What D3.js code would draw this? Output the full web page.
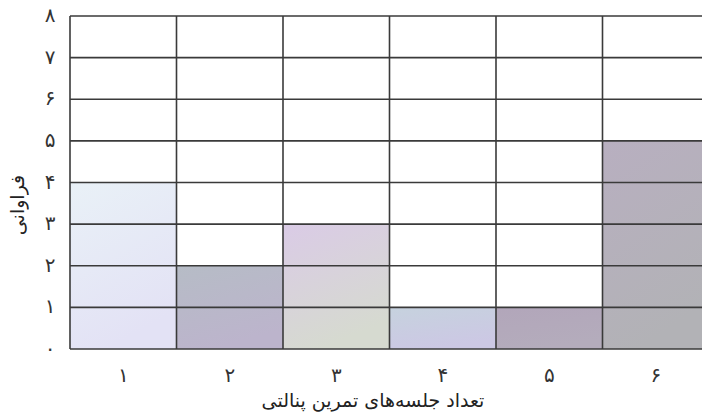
<!DOCTYPE html>
<html><head><meta charset="utf-8">
<script src="https://cdn.jsdelivr.net/npm/d3@7"></script>
<style>html,body{margin:0;padding:0;background:#fff;}svg{display:block;}</style>
</head><body>
<svg id="c" width="702" height="416"></svg>
<script>
const categories = [1, 2, 3, 4, 5, 6];
const catLabels = ["۱", "۲", "۳", "۴", "۵", "۶"];
const frequencies = [4, 2, 3, 1, 1, 5];
const yTicks = [0, 1, 2, 3, 4, 5, 6, 7, 8];
const yTickLabels = ["۰", "۱", "۲", "۳", "۴", "۵", "۶", "۷", "۸"];
const xTitle = "تعداد جلسه‌های تمرین پنالتی";
const yTitle = "فراوانی";
const barTop = ["#e9f1f7", "#b6bcc6", "#dacbe6", "#c6d2de", "#b2a6ba", "#b8afc0"];
const barBottom = ["#e3e2f5", "#bcb4cc", "#d6dad0", "#ccc8e4", "#b4acbc", "#b2b2b6"];

const svg = d3.select("#c");
const m = {l: 70, t: 16, r: 709, b: 349};
const x = d3.scaleBand().domain(categories).range([m.l, m.r]).padding(0);
const y = d3.scaleLinear().domain([0, 8]).range([m.b, m.t]);
const font = "'DejaVu Sans', sans-serif";

const defs = svg.append("defs");
categories.forEach((c, i) => {
  const g = defs.append("linearGradient").attr("id", "g" + i)
    .attr("x1", 0).attr("y1", 0).attr("x2", 0.35).attr("y2", 1);
  g.append("stop").attr("offset", "0%").attr("stop-color", barTop[i]);
  g.append("stop").attr("offset", "100%").attr("stop-color", barBottom[i]);
});

svg.selectAll("rect.bar").data(frequencies).enter().append("rect")
  .attr("class", "bar")
  .attr("x", (d, i) => x(categories[i]))
  .attr("y", d => y(d))
  .attr("width", x.bandwidth())
  .attr("height", d => y(0) - y(d))
  .attr("fill", (d, i) => `url(#g${i})`);

// horizontal grid
svg.selectAll("line.h").data(yTicks).enter().append("line")
  .attr("x1", m.l).attr("x2", m.r)
  .attr("y1", d => y(d)).attr("y2", d => y(d))
  .attr("stroke", "#3a3a3a").attr("stroke-width", 1.6);
// vertical grid
const vb = categories.map(c => x(c)).concat([m.r]);
svg.selectAll("line.v").data(vb).enter().append("line")
  .attr("x1", d => d).attr("x2", d => d)
  .attr("y1", m.t).attr("y2", m.b)
  .attr("stroke", "#3a3a3a").attr("stroke-width", 1.6);

// y tick labels
svg.selectAll("text.yt").data(yTicks).enter().append("text")
  .attr("x", 50).attr("y", d => y(d))
  .attr("dy", "0.3em").attr("text-anchor", "middle")
  .attr("font-family", font).attr("font-size", 20).attr("fill", "#333")
  .text((d, i) => yTickLabels[i]);

// x tick labels
svg.selectAll("text.xt").data(categories).enter().append("text")
  .attr("x", d => x(d) + x.bandwidth() / 2).attr("y", 382)
  .attr("text-anchor", "middle")
  .attr("font-family", font).attr("font-size", 20).attr("fill", "#333")
  .text((d, i) => catLabels[i]);

svg.append("text")
  .attr("x", 373).attr("y", 407).attr("text-anchor", "middle")
  .attr("font-family", font).attr("font-size", 19).attr("fill", "#222")
  .attr("direction", "rtl")
  .text(xTitle);

svg.append("text")
  .attr("transform", "translate(24,205) rotate(-90)")
  .attr("text-anchor", "middle")
  .attr("font-family", font).attr("font-size", 19).attr("fill", "#222")
  .attr("direction", "rtl")
  .text(yTitle);
</script>
</body></html>
